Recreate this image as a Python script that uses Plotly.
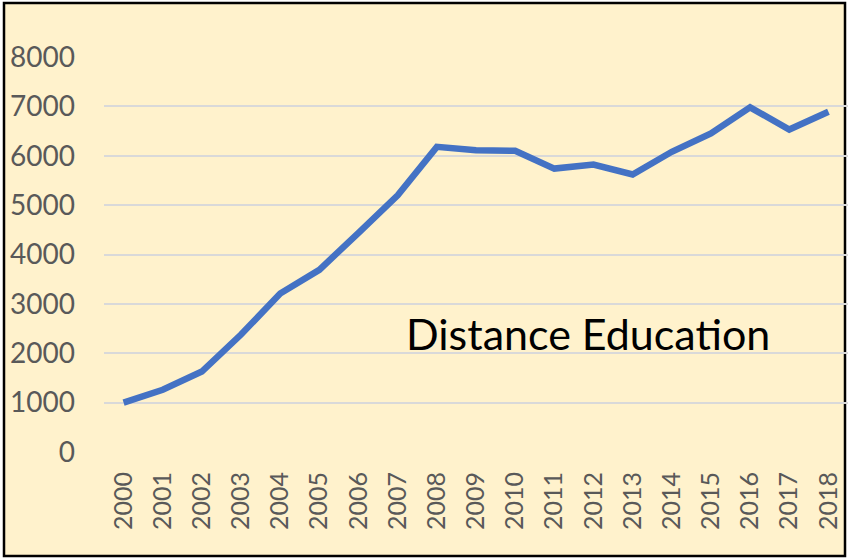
import plotly.graph_objects as go

YEARS = list(range(2000, 2019))
ENROLMENT = [1000, 1260, 1630, 2380, 3210, 3690, 4440, 5200, 6180, 6110, 6100,
             5740, 5820, 5620, 6080, 6450, 6980, 6530, 6890]
Y_TICKS = [0, 1000, 2000, 3000, 4000, 5000, 6000, 7000, 8000]
LABEL = "Distance Education"

W, H = 848, 558
M_L, M_R, M_T, M_B = 104, 0, 57, 106
FONT = "Lato"


def px_to_paper(x, y):
    # pixel position in the page -> paper coordinates of the plot area
    pw = W - M_L - M_R
    ph = H - M_T - M_B
    return (x - M_L) / pw, (H - M_B - y) / ph


def main():
    fig = go.Figure()
    fig.add_trace(go.Scatter(x=YEARS, y=ENROLMENT, mode="lines",
                             line=dict(color="#4472C4", width=6.5),
                             showlegend=False, hoverinfo="x+y"))

    x0, y0 = px_to_paper(4, 3)
    x1, y1 = px_to_paper(845, 556)
    fig.add_shape(type="rect", xref="paper", yref="paper", x0=x0, y0=y0, x1=x1, y1=y1,
                  fillcolor="#FFF2CC", line=dict(color="black", width=2.5), layer="below")

    fig.add_annotation(x=2011.86, y=2400, xref="x", yref="y", text=LABEL, showarrow=False,
                       font=dict(family=FONT, size=43, color="black"))

    fig.update_xaxes(range=[1999.5, 2018.5], tickvals=YEARS, ticktext=[str(y) for y in YEARS],
                     tickangle=-90, showgrid=False, zeroline=False, showline=False,
                     tickfont=dict(family=FONT, size=25, color="#595959"),
                     ticklabelstandoff=14)
    fig.update_yaxes(range=[0, 8000], tickvals=Y_TICKS, showgrid=True, gridcolor="#D9D9D9",
                     gridwidth=1.5, zeroline=False, showline=False,
                     tickfont=dict(family=FONT, size=28, color="#595959"),
                     ticklabelstandoff=28)

    fig.update_layout(width=W, height=H, margin=dict(l=M_L, r=M_R, t=M_T, b=M_B),
                      paper_bgcolor="white", plot_bgcolor="rgba(0,0,0,0)")

    # page body has a default margin; drop it so the chart sits at the window corner
    fig.write_html("out.html", config={"displayModeBar": False},
                   post_script="document.body.style.margin='0';")


if __name__ == "__main__":
    main()
